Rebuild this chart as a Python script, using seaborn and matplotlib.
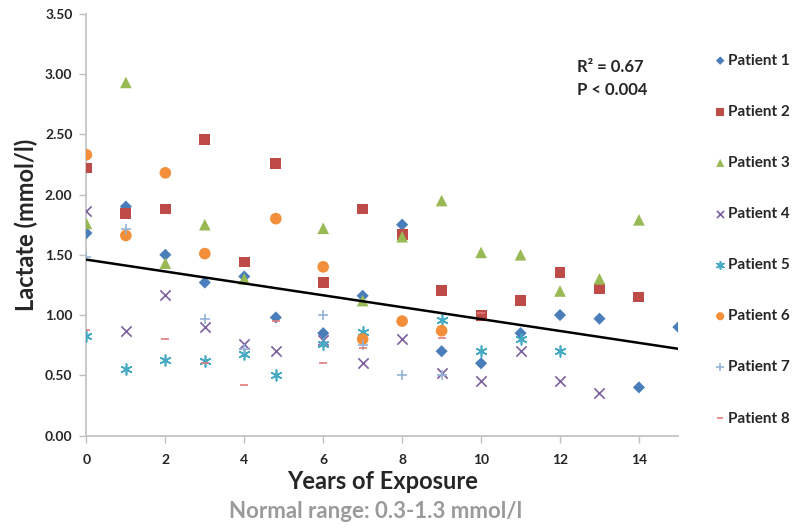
import matplotlib
matplotlib.use("Agg")
import matplotlib.pyplot as plt
import pandas as pd
import seaborn as sns

# values
p1_x = [0, 1, 2, 3, 4, 4.8, 6, 7, 8, 9, 10, 11, 12, 13, 14, 15]
p1_y = [1.68, 1.90, 1.50, 1.27, 1.32, 0.98, 0.85, 1.16, 1.75, 0.70, 0.60, 0.85, 1.00, 0.97, 0.40, 0.90]
p2_x = [0, 1, 2, 3, 4, 4.8, 6, 7, 8, 9, 10, 11, 12, 13, 14]
p2_y = [2.22, 1.84, 1.88, 2.46, 1.44, 2.26, 1.27, 1.88, 1.67, 1.20, 1.00, 1.12, 1.35, 1.22, 1.15]
p3_x = [0, 1, 2, 3, 4, 6, 7, 8, 9, 10, 11, 12, 13, 14]
p3_y = [1.76, 2.93, 1.43, 1.75, 1.30, 1.72, 1.12, 1.65, 1.95, 1.52, 1.50, 1.20, 1.30, 1.79]
p4_x = [0, 1, 2, 3, 4, 4.8, 6, 7, 8, 9, 10, 11, 12, 13]
p4_y = [1.86, 0.87, 1.17, 0.90, 0.76, 0.70, 0.79, 0.60, 0.80, 0.52, 0.45, 0.70, 0.45, 0.35]
p5_x = [0, 1, 2, 3, 4, 4.8, 6, 7, 9, 10, 11, 12]
p5_y = [0.83, 0.55, 0.63, 0.62, 0.68, 0.50, 0.76, 0.86, 0.96, 0.70, 0.80, 0.70]
p6_x = [0, 1, 2, 3, 4.8, 6, 7, 8, 9]
p6_y = [2.33, 1.66, 2.18, 1.51, 1.80, 1.40, 0.80, 0.95, 0.87]
p7_x = [0, 1, 3, 4, 6, 7, 8, 9]
p7_y = [1.48, 1.71, 0.97, 0.72, 1.00, 0.75, 0.50, 0.50]
p8_x = [0, 2, 3, 4, 4.8, 6, 7, 9, 10]
p8_y = [0.88, 0.80, 0.60, 0.42, 0.95, 0.60, 0.73, 0.81, 1.02]

trend_x = [0, 15]
trend_y = [1.46, 0.72]

patients = ["Patient 1", "Patient 2", "Patient 3", "Patient 4",
            "Patient 5", "Patient 6", "Patient 7", "Patient 8"]
xs = [p1_x, p2_x, p3_x, p4_x, p5_x, p6_x, p7_x, p8_x]
ys = [p1_y, p2_y, p3_y, p4_y, p5_y, p6_y, p7_y, p8_y]

colors = ["#4A7EBB", "#BE4B48", "#98B954", "#7D60A0",
          "#46AAC5", "#F38F3A", "#95B3D7", "#E57C7C"]
markers = ["D", "s", "^", "x", (6, 2, 0), "o", "+", "_"]
sizes = [38, 62, 70, 55, 60, 70, 60, 40]

sns.set_style("white")
plt.rcParams["font.family"] = ["Lato", "DejaVu Sans"]

fig = plt.figure(figsize=(8, 5.28), dpi=100)
ax = fig.add_axes([0.108, 0.175, 0.740, 0.799])

for name, x, y, c, m, s in zip(patients, xs, ys, colors, markers, sizes):
    df = pd.DataFrame({"year": x, "lactate": y})
    kw = dict(edgecolor="none") if m not in ("x", "+", "_", (6, 2, 0)) else dict(linewidth=1.2)
    sns.scatterplot(data=df, x="year", y="lactate", ax=ax, color=c,
                    marker=m, s=s, label=name, zorder=3, **kw)

sns.lineplot(x=trend_x, y=trend_y, ax=ax, color="black", linewidth=1.8,
             zorder=4, legend=False)

ax.set_xlim(0, 15)
ax.set_ylim(0, 3.5)
ax.set_xticks(range(0, 15, 2))
ax.set_yticks([i * 0.5 for i in range(8)])
ax.set_yticklabels([f"{i * 0.5:.2f}" for i in range(8)])
for lab in ax.get_xticklabels() + ax.get_yticklabels():
    lab.set_fontweight("bold")
    lab.set_fontsize(10)
ax.tick_params(axis="both", direction="out", length=5, width=1,
               color="#BFBFBF", pad=5, left=True, bottom=True)
ax.tick_params(axis="x", pad=8)

sns.despine(ax=ax)
for side in ("left", "bottom"):
    ax.spines[side].set_color("#BFBFBF")
    ax.spines[side].set_linewidth(1.2)

ax.set_xlabel("Years of Exposure", fontsize=17, fontweight="bold", labelpad=3)
ax.set_ylabel("Lactate (mmol/l)", fontsize=17, fontweight="bold", labelpad=5)

fig.text(0.469, 0.031, "Normal range: 0.3-1.3 mmol/l", ha="center",
         va="center", fontsize=16, fontweight="bold", color="#9A9A9A")

ax.text(12.42, 3.06, "R² = 0.67", fontsize=12, fontweight="bold", va="center")
ax.text(12.42, 2.87, "P < 0.004", fontsize=12, fontweight="bold", va="center")

leg = ax.legend(loc="upper left", bbox_to_anchor=(0.884, 0.910),
                bbox_transform=fig.transFigure, frameon=False,
                labelspacing=2.43, handletextpad=0.05, handlelength=0.9,
                markerscale=0.7, borderaxespad=0,
                prop={"weight": "bold", "size": 11})

fig.savefig("out.png", dpi=100)
